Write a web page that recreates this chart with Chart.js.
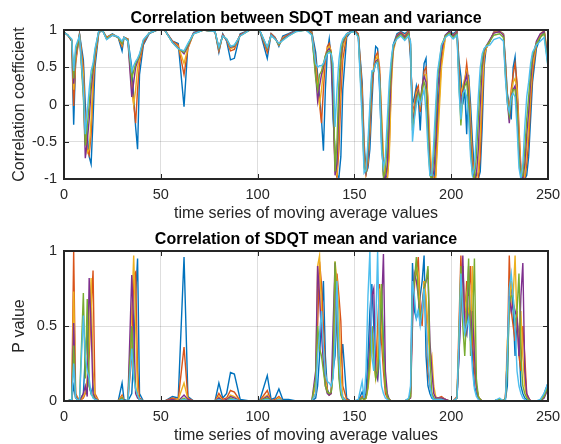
<!DOCTYPE html>
<html>
<head>
<meta charset="utf-8">
<script src="https://cdn.jsdelivr.net/npm/chart.js@4.4.1/dist/chart.umd.min.js"></script>
<style>
    html, body { margin: 0; padding: 0; background: #ffffff; }
    .panel { position: absolute; left: 0; width: 561px; height: 222px; }
    #topPanel { top: 0; }
    #bottomPanel { top: 222px; }
</style>
</head>
<body>
<div class="panel" id="topPanel"><canvas id="corrChart" width="561" height="222"></canvas></div>
<div class="panel" id="bottomPanel"><canvas id="pChart" width="561" height="222"></canvas></div>
<script>
// shared x positions (time series index)
const xValues = [
    0,2,4,5,6,8,
    10,11,12,13,14,15,16,18,
    20,22,25,28,30,31,33,
    35,36,37,38,39,41,44,48,
    52,56,59,62,64,67,72,
    78,80,82,84,86,88,91,96,
    101,105,107,109,111,113,116,120,125,
    128,130,131,132,133,134,135,136,137,138,139,
    140,141,142,143,144,146,148,
    150,152,154,155,156,157,158,159,
    160,161,162,163,164,165,166,167,168,169,
    170,172,174,176,178,179,
    180,181,182,183,184,185,186,187,188,189,
    190,191,192,193,195,197,199,
    201,203,204,205,206,207,208,209,
    210,211,212,213,214,215,216,217,218,220,222,225,227,228,229,
    230,231,232,233,234,235,236,237,238,239,
    240,241,242,244,246,248,250
];

const xTicks = [0, 50, 100, 150, 200, 250];
const corrTicks = [-1, -0.5, 0, 0.5, 1];
const pTicks = [0, 0.5, 1];

// correlation coefficient, one array per series
const corrBlue = [
    0.97,0.93,0.85,-0.27,0.6,0.95,
    0.6,0.0,-0.4,-0.7,-0.8,-0.2,0.5,0.97,
    0.99,0.9,0.95,0.9,0.72,0.9,0.88,
    0.5,0.1,-0.3,-0.6,0.4,0.8,0.95,1.0,
    1.0,0.85,0.82,-0.03,0.8,0.97,1.0,
    0.98,0.7,0.95,0.85,0.6,0.62,0.95,1.0,
    1.0,0.62,0.95,0.9,0.78,0.92,0.95,1.0,1.0,
    0.98,0.7,0.4,0.1,-0.2,-0.62,0.2,0.7,0.88,0.6,-0.2,
    -0.6,-0.95,-0.98,-0.7,0.2,0.9,0.97,
    1.0,0.95,0.3,-0.5,-0.92,-0.85,-0.6,0.0,
    0.5,0.78,0.75,0.2,-0.5,-0.9,-1.0,-0.95,-0.3,0.5,
    0.8,0.95,0.98,0.95,0.99,0.6,
    0.0,0.1,0.25,0.1,-0.35,0.2,0.55,0.62,-0.3,-0.9,
    -1.0,-1.0,-0.8,-0.1,0.7,0.93,0.98,
    0.95,0.99,0.6,0.38,0.0,0.2,-0.4,0.4,
    0.0,-0.5,-0.9,-1.0,-1.0,-0.9,-0.3,0.5,0.75,0.85,0.97,0.98,0.95,0.6,0.15,
    0.0,-0.2,0.5,0.64,0.2,-0.5,-0.9,-1.0,-1.0,-0.95,
    -0.7,-0.2,0.3,0.75,0.9,0.98,0.55
];
const corrOrange = [
    0.97,0.93,0.85,-0.02,0.55,0.94,
    0.5,-0.3,-0.6,-0.68,-0.4,0.2,0.6,0.98,
    0.99,0.9,0.94,0.9,0.78,0.9,0.88,
    0.3,0.0,-0.25,0.2,0.55,0.82,0.96,1.0,
    1.0,0.85,0.8,0.4,0.75,0.96,1.0,
    0.98,0.72,0.94,0.86,0.72,0.74,0.94,1.0,
    1.0,0.7,0.95,0.9,0.8,0.9,0.94,0.99,1.0,
    0.97,0.6,0.3,0.0,-0.25,0.2,0.6,0.78,0.82,0.7,0.1,
    -0.85,-0.98,-0.6,0.1,0.6,0.93,0.98,
    1.0,0.95,0.2,-0.6,-0.93,-0.8,-0.4,0.2,
    0.5,0.65,0.7,0.5,-0.2,-0.8,-1.0,-1.0,-0.6,0.3,
    0.75,0.93,0.97,0.92,0.99,0.7,
    -0.1,0.0,0.2,0.25,-0.1,0.15,0.45,0.5,0.0,-0.7,
    -0.98,-1.0,-0.95,-0.3,0.6,0.92,0.98,
    0.93,0.98,0.5,0.1,0.2,0.3,0.55,0.3,
    -0.2,-0.7,-0.95,-1.0,-1.0,-0.7,0.0,0.6,0.75,0.85,0.97,0.98,0.94,0.55,0.1,
    -0.1,0.2,0.4,0.55,0.3,-0.3,-0.85,-1.0,-1.0,-0.8,
    -0.5,0.0,0.4,0.8,0.93,1.0,0.6
];
const corrYellow = [
    0.97,0.93,0.86,0.2,0.6,0.93,
    0.4,-0.45,-0.65,-0.6,-0.2,0.35,0.65,0.98,
    0.99,0.89,0.94,0.9,0.8,0.9,0.87,
    0.2,0.0,0.2,0.5,0.62,0.85,0.96,1.0,
    1.0,0.84,0.78,0.55,0.76,0.96,1.0,
    0.98,0.74,0.93,0.87,0.75,0.77,0.93,1.0,
    1.0,0.74,0.94,0.89,0.8,0.89,0.93,0.99,1.0,
    0.96,0.5,0.2,0.0,0.2,0.45,0.65,0.75,0.78,0.72,0.3,
    -0.9,-0.95,-0.3,0.4,0.75,0.94,0.98,
    0.99,0.94,0.1,-0.7,-0.93,-0.75,-0.3,0.3,
    0.5,0.6,0.65,0.45,-0.1,-0.7,-0.98,-1.0,-0.7,0.2,
    0.7,0.92,0.96,0.9,0.98,0.75,
    -0.2,-0.05,0.15,0.2,0.0,0.2,0.4,0.4,0.1,-0.5,
    -0.95,-1.0,-1.0,-0.5,0.5,0.9,0.97,
    0.92,0.97,0.45,0.15,0.25,0.35,0.45,0.3,
    -0.3,-0.8,-1.0,-1.0,-0.9,-0.4,0.2,0.65,0.75,0.86,0.96,0.99,0.94,0.5,0.1,
    -0.2,0.15,0.3,0.35,0.2,-0.4,-0.9,-1.0,-0.95,-0.6,
    -0.3,0.15,0.5,0.82,0.94,1.0,0.65
];
const corrPurple = [
    0.97,0.93,0.86,0.28,0.65,0.93,
    0.2,-0.72,-0.5,-0.2,0.2,0.45,0.7,0.99,
    0.99,0.88,0.93,0.9,0.82,0.9,0.86,
    0.1,0.3,0.5,0.58,0.65,0.85,0.96,1.0,
    1.0,0.84,0.76,0.68,0.78,0.96,1.0,
    0.98,0.75,0.93,0.87,0.77,0.78,0.93,1.0,
    1.0,0.75,0.94,0.89,0.81,0.88,0.93,0.99,1.0,
    0.95,0.4,0.05,0.25,0.4,0.5,0.65,0.72,0.75,0.7,0.0,
    -0.95,-0.8,0.0,0.6,0.82,0.95,0.98,
    0.99,0.93,0.0,-0.8,-0.92,-0.7,-0.2,0.35,
    0.45,0.58,0.6,0.4,-0.3,-0.95,-1.0,-0.8,-0.2,0.4,
    0.75,0.92,0.96,0.9,0.97,0.8,
    -0.25,-0.1,0.1,0.18,0.05,0.25,0.38,0.3,-0.2,-0.85,
    -1.0,-0.9,-0.5,0.2,0.75,0.93,0.98,
    0.92,0.97,0.4,0.0,0.15,0.3,0.4,0.1,
    -0.5,-0.9,-1.0,-0.95,-0.6,0.0,0.5,0.72,0.78,0.87,0.96,0.98,0.93,0.45,0.05,
    -0.25,0.1,0.2,0.25,0.0,-0.6,-0.95,-1.0,-0.8,-0.4,
    -0.1,0.3,0.6,0.85,0.95,0.98,0.6
];
const corrGreen = [
    0.97,0.93,0.87,0.35,0.7,0.92,
    0.1,-0.55,-0.3,0.0,0.35,0.5,0.72,0.99,
    0.99,0.88,0.93,0.9,0.82,0.9,0.86,
    0.35,0.45,0.55,0.6,0.66,0.86,0.96,1.0,
    1.0,0.83,0.75,0.7,0.8,0.95,1.0,
    0.98,0.76,0.92,0.88,0.78,0.79,0.92,1.0,
    1.0,0.76,0.93,0.88,0.81,0.87,0.92,0.98,1.0,
    0.94,0.35,0.2,0.4,0.45,0.55,0.65,0.7,0.72,0.7,0.4,
    -0.9,-0.5,0.3,0.7,0.85,0.95,0.97,
    0.98,0.92,-0.1,-0.85,-0.9,-0.6,-0.1,0.4,
    0.45,0.55,0.58,0.35,-0.4,-0.98,-0.9,-0.5,0.1,0.5,
    0.78,0.9,0.94,0.88,0.95,0.82,
    -0.35,-0.15,0.05,0.15,0.05,0.2,0.3,0.2,-0.4,-0.95,
    -1.0,-0.7,-0.2,0.35,0.8,0.92,0.96,
    0.9,0.95,0.3,-0.28,0.1,0.25,0.3,0.0,
    -0.6,-0.95,-0.98,-0.7,-0.2,0.3,0.6,0.74,0.78,0.85,0.93,0.95,0.9,0.4,0.05,
    -0.15,0.05,0.2,0.2,-0.1,-0.7,-0.98,-0.95,-0.6,-0.2,
    0.1,0.45,0.65,0.82,0.9,0.95,0.52
];
const corrCyan = [
    0.97,0.93,0.88,0.45,0.78,0.92,
    0.2,-0.4,-0.1,0.2,0.45,0.55,0.75,0.99,
    0.99,0.87,0.93,0.91,0.85,0.9,0.85,
    0.45,0.52,0.58,0.62,0.68,0.87,0.96,1.0,
    1.0,0.83,0.75,0.72,0.82,0.95,1.0,
    0.98,0.77,0.92,0.88,0.78,0.8,0.92,1.0,
    1.0,0.77,0.93,0.88,0.82,0.86,0.92,0.98,1.0,
    0.93,0.55,0.5,0.52,0.52,0.55,0.62,0.68,0.7,0.68,0.55,
    -0.3,0.2,0.6,0.8,0.88,0.95,0.97,
    0.98,0.9,-0.2,-0.92,-0.88,-0.5,0.0,0.45,
    0.45,0.55,0.56,0.3,-0.6,-0.85,-0.7,-0.2,0.3,0.6,
    0.8,0.88,0.92,0.86,0.92,0.85,
    -0.5,-0.2,0.0,0.1,0.0,0.1,0.2,-0.1,-0.6,-0.95,
    -0.95,-0.5,0.0,0.45,0.8,0.9,0.94,
    0.88,0.93,0.2,-0.2,0.15,0.2,0.1,-0.2,
    -0.7,-0.95,-0.85,-0.4,0.1,0.5,0.68,0.75,0.78,0.8,0.87,0.9,0.85,0.35,0.0,
    -0.1,0.1,0.15,0.1,-0.3,-0.85,-1.0,-0.8,-0.3,0.1,
    0.3,0.55,0.7,0.8,0.85,0.9,0.5
];

// p values, one array per series
const pBlue = [
    0,0,0.01,0.1,0.02,0,
    0.05,0.3,0.48,0.1,0.05,0.1,0.02,0,
    0,0,0,0,0.12,0.01,0,
    0.05,0.3,0.7,0.95,0.05,0,0,0,
    0,0.03,0.02,0.96,0.03,0,0,
    0,0.12,0.02,0.05,0.19,0.18,0.01,0,
    0,0.17,0.01,0.02,0.08,0.01,0.01,0,0,
    0,0.02,0.1,0.3,0.55,0.8,0.3,0.08,0.04,0.05,0.2,
    0.3,0.6,0.3,0.25,0.38,0.02,0,
    0,0,0.06,0.02,0.05,0.3,0.6,0.78,
    0.5,0.2,0.15,0.3,0.73,0.4,0.1,0.03,0.01,0,
    0,0,0,0,0.01,0.05,
    0.92,0.6,0.55,0.6,0.7,0.8,0.97,0.3,0.1,0.05,
    0.02,0.01,0.01,0.02,0.02,0.01,0,
    0,0.02,0.3,0.7,0.9,0.5,0.45,0.6,
    0.6,0.3,0.1,0.05,0.02,0.01,0,0,0,0,0,0.01,0,0.01,0.1,
    0.7,0.8,0.6,0.3,0.55,0.4,0.1,0.05,0.02,0.01,
    0,0,0,0,0,0.05,0.12
];
const pOrange = [
    0,0,0.01,1.0,0.05,0,
    0.02,0.05,0.1,0.3,0.6,0.87,0.05,0,
    0,0,0,0,0.04,0,0,
    0.3,0.84,0.86,0.2,0.02,0,0,0,
    0,0.02,0.01,0.36,0.02,0,0,
    0,0.05,0.01,0.02,0.07,0.06,0,0,
    0,0.07,0,0.01,0.03,0,0,0,0,
    0,0.05,0.5,0.93,0.78,0.5,0.2,0.07,0.04,0.05,0.3,
    0.5,0.85,0.7,0.53,0.1,0.01,0,
    0,0,0.03,0.01,0.02,0.1,0.3,0.5,
    0.3,0.2,0.5,0.78,0.4,0.2,0.05,0.02,0.01,0,
    0,0,0,0,0.01,0.03,
    0.7,0.8,0.85,0.96,0.6,0.5,0.8,0.6,0.2,0.1,
    0.05,0.02,0.01,0.02,0.03,0.01,0,
    0,0.03,0.5,0.97,0.6,0.55,0.8,0.7,
    0.9,0.4,0.2,0.1,0.03,0.01,0,0,0,0,0,0.01,0,0.02,0.3,
    0.97,0.6,0.5,0.4,0.6,0.3,0.2,0.5,0.3,0.05,
    0.02,0,0,0,0,0.03,0.1
];
const pYellow = [
    0,0,0.01,0.73,0.04,0,
    0.03,0.06,0.15,0.4,0.82,0.2,0.03,0,
    0,0,0,0,0.03,0,0,
    0.6,0.97,0.5,0.05,0.01,0,0,0,
    0,0.01,0.01,0.12,0.01,0,0,
    0,0.03,0,0.01,0.04,0.03,0,0,
    0,0.04,0,0,0.02,0,0,0,0,
    0,0.1,0.9,0.97,0.6,0.35,0.15,0.06,0.04,0.05,0.2,
    0.93,0.8,0.6,0.2,0.03,0,0,
    0,0,0.02,0.01,0.02,0.08,0.2,0.4,
    0.25,0.15,0.3,0.75,0.5,0.3,0.1,0.03,0.01,0,
    0,0,0,0,0.01,0.02,
    0.6,0.75,0.9,0.85,0.55,0.6,0.8,0.7,0.5,0.25,
    0.3,0.1,0.03,0.02,0.02,0.01,0,
    0,0.02,0.4,0.8,0.9,0.6,0.7,0.6,
    0.5,0.9,0.35,0.1,0.03,0.01,0,0,0,0,0,0.01,0,0.02,0.4,
    0.6,0.8,0.7,0.97,0.5,0.4,0.6,0.3,0.1,0.03,
    0.01,0,0,0,0,0.03,0.1
];
const pPurple = [
    0,0,0.01,0.52,0.03,0,
    0.05,0.1,0.03,0.82,0.5,0.05,0.02,0,
    0,0,0,0,0.02,0,0,
    0.84,0.5,0.05,0.02,0.01,0,0,0,
    0,0.01,0,0.04,0.01,0,0,
    0,0.02,0,0.01,0.03,0.02,0,0,
    0,0.03,0,0,0.01,0,0,0,0,
    0,0.2,0.9,0.7,0.45,0.25,0.1,0.05,0.04,0.05,0.5,
    0.92,0.5,0.2,0.05,0.02,0,0,
    0,0,0.02,0.01,0.03,0.15,0.4,0.7,
    0.75,0.2,0.15,0.4,0.6,0.98,0.2,0.05,0.01,0,
    0,0,0,0,0.01,0.02,
    0.5,0.85,0.8,0.7,0.5,0.65,0.75,0.8,0.85,0.4,
    0.2,0.05,0.02,0.02,0.02,0.01,0,
    0,0.02,0.3,0.6,0.97,0.5,0.45,0.9,
    0.4,0.6,0.3,0.1,0.02,0.01,0,0,0,0,0,0.01,0,0.02,0.3,
    0.7,0.6,0.65,0.6,0.55,0.3,0.7,0.92,0.2,0.05,
    0.02,0,0,0,0,0.02,0.08
];
const pGreen = [
    0,0,0.01,0.37,0.02,0,
    0.72,0.15,0.68,0.1,0.05,0.03,0.01,0,
    0,0,0,0,0.02,0,0,
    0.5,0.2,0.08,0.04,0.01,0,0,0,
    0,0,0,0.02,0,0,0,
    0,0.01,0,0,0.02,0.01,0,0,
    0,0.02,0,0,0.01,0,0,0,0,
    0,0.15,0.5,0.35,0.3,0.2,0.1,0.06,0.05,0.06,0.2,
    0.93,0.6,0.15,0.04,0.01,0,0,
    0,0,0.02,0.01,0.02,0.1,0.3,0.5,
    0.3,0.15,0.2,0.4,0.78,0.3,0.1,0.03,0.01,0,
    0,0,0,0,0.01,0.03,
    0.7,0.8,0.96,0.7,0.55,0.6,0.75,0.8,0.9,0.3,
    0.05,0.02,0.01,0.01,0.01,0,0,
    0,0.02,0.4,0.9,0.5,0.3,0.6,0.95,
    0.3,0.5,0.95,0.15,0.03,0.01,0,0,0,0,0,0.01,0,0.02,0.2,
    0.65,0.7,0.7,0.5,0.6,0.85,0.3,0.1,0.05,0.02,
    0.01,0,0,0,0,0.03,0.1
];
const pCyan = [
    0,0,0.01,0.25,0.02,0,
    0.57,0.3,0.2,0.15,0.05,0.02,0.01,0,
    0,0,0,0,0.01,0,0,
    0.35,0.15,0.08,0.04,0.01,0,0,0,
    0,0,0,0.01,0,0,0,
    0,0.01,0,0,0.01,0.01,0,0,
    0,0.01,0,0,0.01,0,0,0,0,
    0,0.05,0.3,0.45,0.6,0.35,0.18,0.13,0.12,0.1,0.15,
    0.4,0.8,0.3,0.08,0.02,0,0,
    0,0.01,0.13,0.02,0.2,0.7,1.0,0.3,
    0.2,0.5,1.0,0.3,0.1,0.05,0.02,0.01,0,0,
    0,0,0,0,0.02,0.1,
    0.8,0.7,0.55,0.6,0.5,0.6,0.75,0.5,0.3,0.1,
    0.03,0.01,0.01,0.01,0.01,0,0,
    0,0.02,0.4,0.85,0.6,0.45,0.5,0.55,
    0.4,0.2,0.08,0.03,0.01,0,0,0,0,0,0,0.02,0,0.01,0.3,
    0.75,0.85,0.7,0.5,0.2,0.1,0.05,0.02,0.01,0,
    0,0,0,0,0.01,0.05,0.12
];

const seriesColors = ['#0072BD', '#D95319', '#EDB120', '#7E2F8E', '#77AC30', '#4DBEEE'];
const fontFamily = '"Liberation Sans", Arial, Helvetica, sans-serif';

function makeDatasets(seriesList) {
    return seriesList.map((values, i) => ({
        data: values.map((v, j) => ({ x: xValues[j], y: v })),
        borderColor: seriesColors[i],
        backgroundColor: seriesColors[i],
        borderWidth: 1.4,
        pointRadius: 0,
        tension: 0,
        fill: false,
        order: seriesList.length - i   // last series drawn on top, like MATLAB
    }));
}

// MATLAB-like box with inward ticks and a bold title above the axes
const axesFrame = {
    id: 'axesFrame',
    afterDatasetsDraw(chart, args, opts) {
        const { ctx, chartArea: a, scales } = chart;
        ctx.save();
        ctx.strokeStyle = '#262626';
        ctx.lineWidth = 1;
        ctx.beginPath();
        opts.xTicks.forEach(v => {
            const px = Math.round(scales.x.getPixelForValue(v)) + 0.5;
            ctx.moveTo(px, a.bottom); ctx.lineTo(px, a.bottom - 5);
            ctx.moveTo(px, a.top); ctx.lineTo(px, a.top + 5);
        });
        opts.yTicks.forEach(v => {
            const py = Math.round(scales.y.getPixelForValue(v)) + 0.5;
            ctx.moveTo(a.left, py); ctx.lineTo(a.left + 5, py);
            ctx.moveTo(a.right, py); ctx.lineTo(a.right - 5, py);
        });
        ctx.stroke();
        ctx.lineWidth = 2;
        ctx.strokeRect(a.left, a.top, a.right - a.left, a.bottom - a.top);
        ctx.fillStyle = '#000000';
        ctx.font = 'bold 16px ' + fontFamily;
        ctx.textAlign = 'center';
        ctx.textBaseline = 'alphabetic';
        ctx.fillText(opts.title, (a.left + a.right) / 2, a.top - 7);
        ctx.restore();
    }
};

function makeOptions(yMin, yMax, yTicks, yLabel, title, topPad) {
    return {
        responsive: false,
        animation: false,
        layout: { padding: { left: 0, right: 13, top: topPad, bottom: 0 } },
        plugins: {
            legend: { display: false },
            tooltip: { enabled: false },
            title: { display: false },
            axesFrame: { title: title, xTicks: xTicks, yTicks: yTicks }
        },
        scales: {
            x: {
                type: 'linear',
                min: 0,
                max: 250,
                afterFit: (scale) => {
                    scale.height = 43;
                    scale.paddingLeft = 0;
                    scale.paddingRight = 0;
                },
                afterBuildTicks: (scale) => { scale.ticks = xTicks.map(v => ({ value: v })); },
                grid: { color: 'rgba(0,0,0,0.13)', drawTicks: false },
                border: { display: false },
                ticks: {
                    color: '#262626',
                    padding: 7,
                    maxRotation: 0,
                    font: { family: fontFamily, size: 14.5 },
                    callback: (value) => String(value)
                },
                title: {
                    display: true,
                    text: 'time series of moving average values',
                    color: '#262626',
                    padding: 0,
                    font: { family: fontFamily, size: 16, lineHeight: 1 }
                }
            },
            y: {
                min: yMin,
                max: yMax,
                afterFit: (scale) => {
                    scale.width = 64;
                    scale.paddingTop = 0;
                    scale.paddingBottom = 0;
                },
                afterBuildTicks: (scale) => { scale.ticks = yTicks.map(v => ({ value: v })); },
                grid: { color: 'rgba(0,0,0,0.13)', drawTicks: false },
                border: { display: false },
                ticks: {
                    color: '#262626',
                    padding: 7,
                    font: { family: fontFamily, size: 14.5 },
                    callback: (value) => String(value)
                },
                title: {
                    display: true,
                    text: yLabel,
                    color: '#262626',
                    padding: { top: 12, bottom: 0 },
                    font: { family: fontFamily, size: 16, lineHeight: 1 }
                }
            }
        }
    };
}

document.addEventListener('DOMContentLoaded', function () {
    const corrCtx = document.getElementById('corrChart').getContext('2d');
    const pCtx = document.getElementById('pChart').getContext('2d');

    const corrChart = new Chart(corrCtx, {
        type: 'line',
        data: {
            datasets: makeDatasets([corrBlue, corrOrange, corrYellow, corrPurple, corrGreen, corrCyan])
        },
        options: makeOptions(-1, 1, corrTicks, 'Correlation coefficient',
            'Correlation between SDQT mean and variance', 30),
        plugins: [axesFrame]
    });

    const pChart = new Chart(pCtx, {
        type: 'line',
        data: {
            datasets: makeDatasets([pBlue, pOrange, pYellow, pPurple, pGreen, pCyan])
        },
        options: makeOptions(0, 1, pTicks, 'P value', 'Correlation of SDQT mean and variance', 29),
        plugins: [axesFrame]
    });
});
</script>
</body>
</html>
